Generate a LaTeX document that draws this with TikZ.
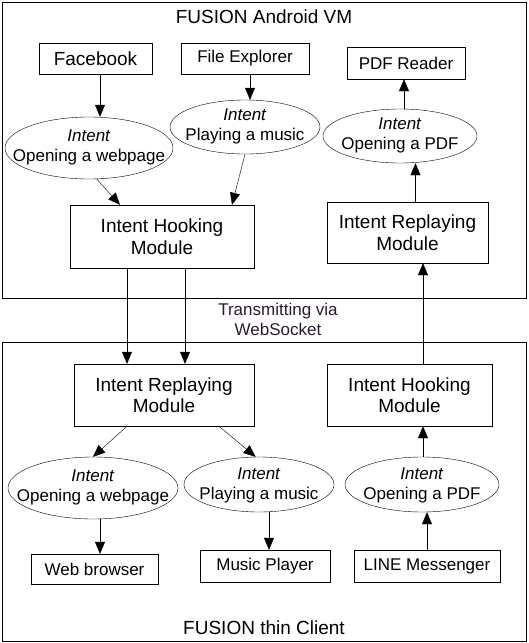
\documentclass[tikz,border=0pt]{standalone}
\usepackage{fontspec}
\setmainfont{Liberation Sans}
\usetikzlibrary{arrows.meta, positioning, shapes.geometric}
\definecolor{wsText}{HTML}{2B1A2B}
\tikzset{x=1pt, y=-1pt, line width=0.9pt, >={Triangle[length=12pt, width=10pt]},
	bigfont/.style={font=\fontsize{19}{21.5}\selectfont},
	smallfont/.style={font=\fontsize{17}{20}\selectfont},
	appbox/.style={draw, rectangle, inner sep=0pt, smallfont},
	modbox/.style={draw, rectangle, inner sep=0pt, align=center, bigfont},
	intent/.style={draw, ellipse, inner sep=0pt},
	intent text/.style={align=center, smallfont, inner sep=0pt},
	frame/.style={draw, rectangle, inner sep=0pt}}

\begin{document}
\begin{tikzpicture}
	\useasboundingbox (0,0) rectangle (528,643);
	% frames
	\node[frame, minimum width=524, minimum height=296] at (264,150) (vm) {};
	\node[frame, minimum width=524, minimum height=299] at (264,491.5) (client) {};
	\node[bigfont] at (264,17) (vmtitle) {FUSION Android VM};
	\node[bigfont] at (264,628) (cltitle) {FUSION thin Client};
	\node[smallfont, text=wsText, align=center] at (278,319) (ws) {Transmitting via\\WebSocket};
	% VM side
	\node[appbox, font=\fontsize{19}{21.5}\selectfont, minimum width=113, minimum height=31] at (95.5,58.5) (Facebook) {Facebook};
	\node[appbox, minimum width=128, minimum height=31] at (245,58.5) (File Explorer) {File Explorer};
	\node[appbox, minimum width=118, minimum height=32] at (406,63) (PDF Reader) {PDF Reader};
	\node[intent, minimum width=168, minimum height=62] at (89,148) (Web VM) {};
	\node[intent text] at ([yshift=1]Web VM.center) (Web VM text) {\textit{Intent}\\Opening a webpage};
	\node[intent, minimum width=150, minimum height=54] at (245,127) (Music VM) {};
	\node[intent text] at ([yshift=1]Music VM.center) (Music VM text) {\textit{Intent}\\Playing a music};
	\node[intent, minimum width=154, minimum height=54] at (400,136) (PDF VM) {};
	\node[intent text] at ([yshift=1]PDF VM.center) (PDF VM text) {\textit{Intent}\\Opening a PDF};
	\node[modbox, minimum width=184, minimum height=63] at (162,236.5) (Hook VM) {Intent Hooking\\Module};
	\node[modbox, minimum width=161, minimum height=61] at (407.5,232.5) (Replay VM) {Intent Replaying\\Module};
	% client side
	\node[modbox, minimum width=180, minimum height=62] at (164,395) (Replay CL) {Intent Replaying\\Module};
	\node[modbox, minimum width=165, minimum height=62] at (409.5,395) (Hook CL) {Intent Hooking\\Module};
	\node[intent, minimum width=170, minimum height=62] at (93,488) (Web CL) {};
	\node[intent text] at ([yshift=1]Web CL.center) (Web CL text) {\textit{Intent}\\Opening a webpage};
	\node[intent, minimum width=150, minimum height=55] at (259,484.5) (Music CL) {};
	\node[intent text] at ([yshift=-1]Music CL.center) (Music CL text) {\textit{Intent}\\Playing a music};
	\node[intent, minimum width=154, minimum height=55] at (422,484.5) (PDF CL) {};
	\node[intent text] at ([yshift=-1]PDF CL.center) (PDF CL text) {\textit{Intent}\\Opening a PDF};
	\node[appbox, minimum width=127, minimum height=30] at (94.5,569) (Web Browser) {Web browser};
	\node[appbox, minimum width=130, minimum height=32] at (265,566) (Music Player) {Music Player};
	\node[appbox, minimum width=146, minimum height=32] at (427,566) (LINE) {LINE Messenger};
	% connectors
	\draw[->] ([xshift=4.5]Facebook.south) -- ([xshift=4.5]Facebook.south |- Web VM.north);
	\draw[->] ([xshift=5]File Explorer.south) -- ([xshift=5]File Explorer.south |- Music VM.north);
	\draw[->] (Web VM.-76) -- ([xshift=-42]Hook VM.north);
	\draw[->] (Music VM.south) -- ([xshift=70]Hook VM.north);
	\draw[->] ([xshift=-35]Hook VM.south) -- ([xshift=-35]Hook VM.south |- Replay CL.north);
	\draw[->] ([xshift=23]Hook VM.south) -- ([xshift=23]Hook VM.south |- Replay CL.north);
	\draw[->] ([xshift=-37]Replay CL.south) -- (Web CL.north);
	\draw[->] ([xshift=55]Replay CL.south) -- (Music CL.97);
	\draw[->] ([xshift=7]Web CL.south) -- ([xshift=7]Web CL.south |- Web Browser.north);
	\draw[->] ([xshift=10]Music CL.south) -- ([xshift=10]Music CL.south |- Music Player.north);
	\draw[->] (LINE.north) -- (LINE.north |- PDF CL.south);
	\draw[->] ([xshift=1]PDF CL.north) -- ([xshift=1]PDF CL.north |- Hook CL.south);
	\draw[->] ([xshift=13.5]Hook CL.north) -- ([xshift=13.5]Hook CL.north |- Replay VM.south);
	\draw[->] ([xshift=8]Replay VM.north) -- ([xshift=8]Replay VM.north |- PDF VM.south);
	\draw[->] ([xshift=4]PDF VM.north) -- ([xshift=4]PDF VM.north |- PDF Reader.south);
\end{tikzpicture}
\end{document}
